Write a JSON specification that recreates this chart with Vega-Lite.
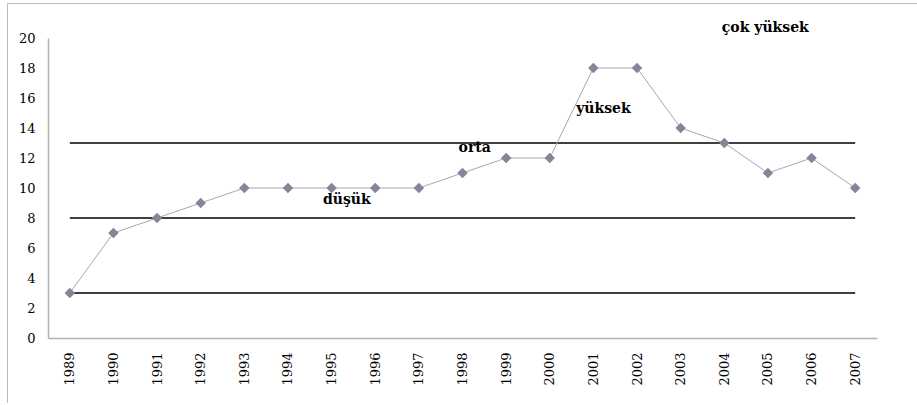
{
  "$schema": "https://vega.github.io/schema/vega-lite/v6.json",
  "width": 911,
  "height": 400,
  "autosize": {"type": "none"},
  "padding": {"left": 7, "top": 3, "right": 0, "bottom": 0},
  "background": "white",
  "config": {
    "view": {"stroke": "#bdbaba", "strokeWidth": 1},
    "axis": {"labelFont": "DejaVu Serif", "labelFontSize": 13, "labelColor": "#000000", "domainColor": "#b5b1b1", "domainWidth": 1.5, "ticks": false, "grid": false, "title": null}
  },
  "datasets": {
    "series": [
      {"year": 1989, "value": 3}, {"year": 1990, "value": 7}, {"year": 1991, "value": 8},
      {"year": 1992, "value": 9}, {"year": 1993, "value": 10}, {"year": 1994, "value": 10},
      {"year": 1995, "value": 10}, {"year": 1996, "value": 10}, {"year": 1997, "value": 10},
      {"year": 1998, "value": 11}, {"year": 1999, "value": 12}, {"year": 2000, "value": 12},
      {"year": 2001, "value": 18}, {"year": 2002, "value": 18}, {"year": 2003, "value": 14},
      {"year": 2004, "value": 13}, {"year": 2005, "value": 11}, {"year": 2006, "value": 12},
      {"year": 2007, "value": 10}
    ],
    "bands": [
      {"year": 1989, "end": 2007, "value": 3},
      {"year": 1989, "end": 2007, "value": 8},
      {"year": 1989, "end": 2007, "value": 13}
    ],
    "labels": [
      {"label": "düşük", "year": 1995.35, "value": 9.2},
      {"label": "orta", "year": 1998.28, "value": 12.7},
      {"label": "yüksek", "year": 2001.23, "value": 15.27},
      {"label": "çok yüksek", "year": 2004.94, "value": 20.7}
    ]
  },
  "encoding": {
    "x": {
      "field": "year", "type": "quantitative",
      "scale": {"domain": [1988.5, 2007.5], "range": [41, 870], "nice": false, "zero": false},
      "axis": {"values": [1989,1990,1991,1992,1993,1994,1995,1996,1997,1998,1999,2000,2001,2002,2003,2004,2005,2006,2007], "format": "d", "labelAngle": 270, "labelPadding": 14, "offset": -65, "labelOverlap": false}
    },
    "y": {
      "field": "value", "type": "quantitative",
      "scale": {"domain": [0, 20], "range": [335, 35], "nice": false, "zero": false},
      "axis": {"values": [0,2,4,6,8,10,12,14,16,18,20], "labelPadding": 13, "offset": -41}
    }
  },
  "layer": [
    {
      "data": {"name": "bands"},
      "mark": {"type": "rule", "color": "#000000", "strokeWidth": 1.5},
      "encoding": {"x2": {"field": "end"}}
    },
    {
      "data": {"name": "series"},
      "mark": {"type": "line", "color": "#aba4b0", "strokeWidth": 1}
    },
    {
      "data": {"name": "series"},
      "mark": {"type": "point", "shape": "diamond", "filled": true, "color": "#8a8398", "opacity": 1, "size": 110}
    },
    {
      "data": {"name": "labels"},
      "mark": {"type": "text", "font": "DejaVu Serif", "fontSize": 14, "fontWeight": "bold", "color": "#000000", "align": "center", "baseline": "middle"},
      "encoding": {"text": {"field": "label"}}
    }
  ]
}
